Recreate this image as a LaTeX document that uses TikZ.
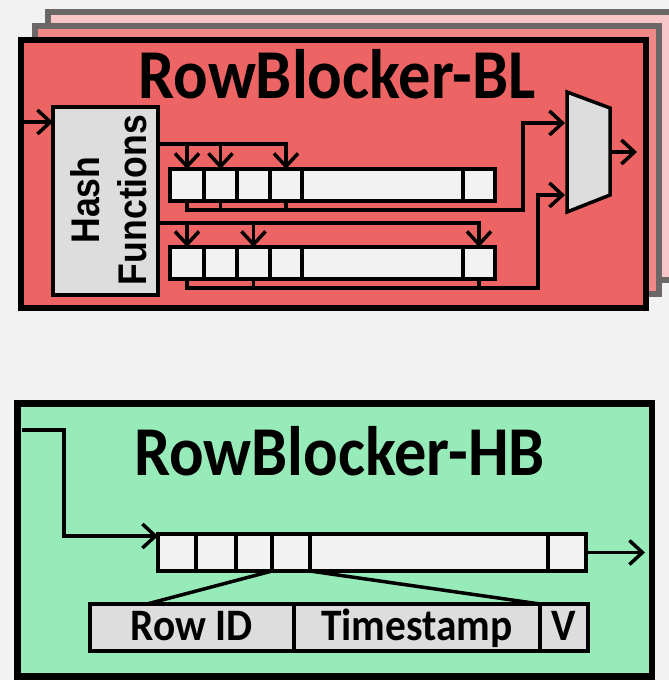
\documentclass[tikz,border=0pt]{standalone}
\usepackage{fontspec}
\newfontfamily\carlito{Carlito}[FakeStretch=0.92]
\newfontfamily\arialfont{Liberation Sans}[FakeStretch=0.89]
\usetikzlibrary{arrows.meta,calc}
\definecolor{bg}{RGB}{242,242,242}
\definecolor{redmain}{RGB}{236,100,100}
\definecolor{redmid}{RGB}{240,136,136}
\definecolor{redback}{RGB}{248,198,198}
\definecolor{stackgray}{RGB}{107,103,103}
\definecolor{hbgreen}{RGB}{150,235,185}
\definecolor{cellfill}{RGB}{242,242,242}
\definecolor{blockfill}{RGB}{221,221,221}
\begin{document}
\begin{tikzpicture}[x=1pt,y=-1pt,
  wire/.style={line width=3.5pt},
  arr/.style={wire,-{Straight Barb[length=13pt,width=24pt]}},
  cell/.style={draw,line width=3.5pt,fill=cellfill,inner sep=0pt,outer sep=0pt},
  block/.style={draw,line width=3.5pt,fill=blockfill,inner sep=0pt,outer sep=0pt},
  title/.style={font=\carlito\bfseries\fontsize{70}{70}\selectfont,anchor=base},
  fieldtxt/.style={font=\carlito\bfseries\fontsize{45}{45}\selectfont,text height=29pt,text depth=0pt,inner sep=0pt,yshift=1.5pt}]

% canvas
\useasboundingbox (0,0) rectangle (669,680);
\fill[bg] (0,0) rectangle (669,680);
\clip (0,0) rectangle (669,680);

% ---------- RowBlocker-BL (stack of three copies) ----------
\draw[line width=5.5pt,draw=stackgray,fill=redback] (48,12) rectangle (672,280);
\draw[line width=5.5pt,draw=stackgray,fill=redmid] (35,26) rectangle (659,294);
\draw[line width=6.5pt,fill=redmain] (21,40) rectangle (646,308);
\node[title] (bltitle) at (337,98) {RowBlocker-BL};

% hash unit
\node[block,minimum width=105pt,minimum height=188pt] (hash) at (105.5,201) {};
\node[rotate=90,align=center,font=\arialfont\bfseries\fontsize{40}{47}\selectfont]
  (hashlbl) at (108.5,200) {Hash\\Functions};

% first bit array
\foreach \n/\cx/\w in {1/187/34,2/220.5/33,3/253.5/33,4/286/32,5/382.5/161,6/479/32}
  \node[cell,minimum width=\w pt,minimum height=32pt] (a1c\n) at (\cx,185) {};
% second bit array
\foreach \n/\cx/\w in {1/187/34,2/220.5/33,3/253.5/33,4/286/32,5/382.5/161,6/479/32}
  \node[cell,minimum width=\w pt,minimum height=32pt] (a2c\n) at (\cx,263) {};

% selector
\draw[line width=3.5pt,fill=blockfill] (567,92) coordinate (muxtl) -- (610,108) coordinate (muxtr)
  -- (610,195) coordinate (muxbr) -- (567,212) coordinate (muxbl) -- cycle;
\coordinate (m1) at (565,123);
\coordinate (m2) at (565,195);
\coordinate (mo) at (610,152);
\coordinate (blout) at (637,152);

% input into the hash unit
\coordinate (blin) at (21,122);
\draw[arr] (blin) -- (blin -| hash.west);

% hash outputs to the first array
\coordinate (h1) at (hash.east |- 0,144);
\draw[arr] (h1) -| (a1c4.north);
\draw[arr] (h1 -| a1c1) -- (a1c1.north);
\draw[arr] (h1 -| a1c2) -- (a1c2.north);

% hash outputs to the second array
\coordinate (h2) at (hash.east |- 0,223);
\draw[arr] (h2) -| (a2c6.north);
\draw[arr] (h2 -| a2c1) -- (a2c1.north);
\draw[arr] (h2 -| a2c3) -- (a2c3.north);

% array reads into the selector
\coordinate (b1) at (523,210);
\draw[arr] (a1c1.south) |- (b1) |- (m1);
\draw[wire] (a1c2.south) -- (a1c2.south |- b1);
\draw[wire] (a1c4.south) -- ($(a1c4.south |- b1)+(0,2)$);

\coordinate (b2) at (538,288);
\draw[arr] (a2c1.south) |- (b2) |- (m2);
\draw[wire] (a2c3.south) -- (a2c3.south |- b2);
\draw[wire] (a2c6.south) -- (a2c6.south |- b2);

% selector output
\draw[arr] (mo) -- (blout);

% ---------- RowBlocker-HB ----------
\draw[line width=6.5pt,fill=hbgreen] (17.5,403.5) rectangle (652,676.5);
\node[title] (hbtitle) at (339.5,475) {RowBlocker-HB};

\foreach \n/\cx/\w in {1/177/38,2/216/40,3/254/36,4/291/38,5/429/238,6/567/38}
  \node[cell,minimum width=\w pt,minimum height=37pt] (hb\n) at (\cx,552.5) {};

% entry fields
\node[block,minimum width=204pt,minimum height=47pt] (rec1) at (192,627.5) {};
\node[block,minimum width=246pt,minimum height=47pt] (rec2) at (417,627.5) {};
\node[block,minimum width=48pt,minimum height=47pt] (rec3) at (564,627.5) {};
\node[fieldtxt] (rec1txt) at (rec1.center) {Row ID};
\node[fieldtxt] (rec2txt) at (rec2.center) {Timestamp};
\node[fieldtxt] (rec3txt) at (rec3.center) {V};

% input path
\coordinate (hbin) at (22,430);
\coordinate (hbk) at (64,430);
\draw[arr] (hbin) -- (hbk) |- ($(hb1.north west)+(0,2)$);

% output
\coordinate (hbout) at (645,552.5);
\draw[arr] (hb6.east) -- (hbout);

% entry expansion lines
\coordinate (f1) at (147,604);
\draw[wire] (hb4.south west) -- (f1);
\draw[wire] (hb4.south east) -- (rec2.north east);
\end{tikzpicture}
\end{document}
